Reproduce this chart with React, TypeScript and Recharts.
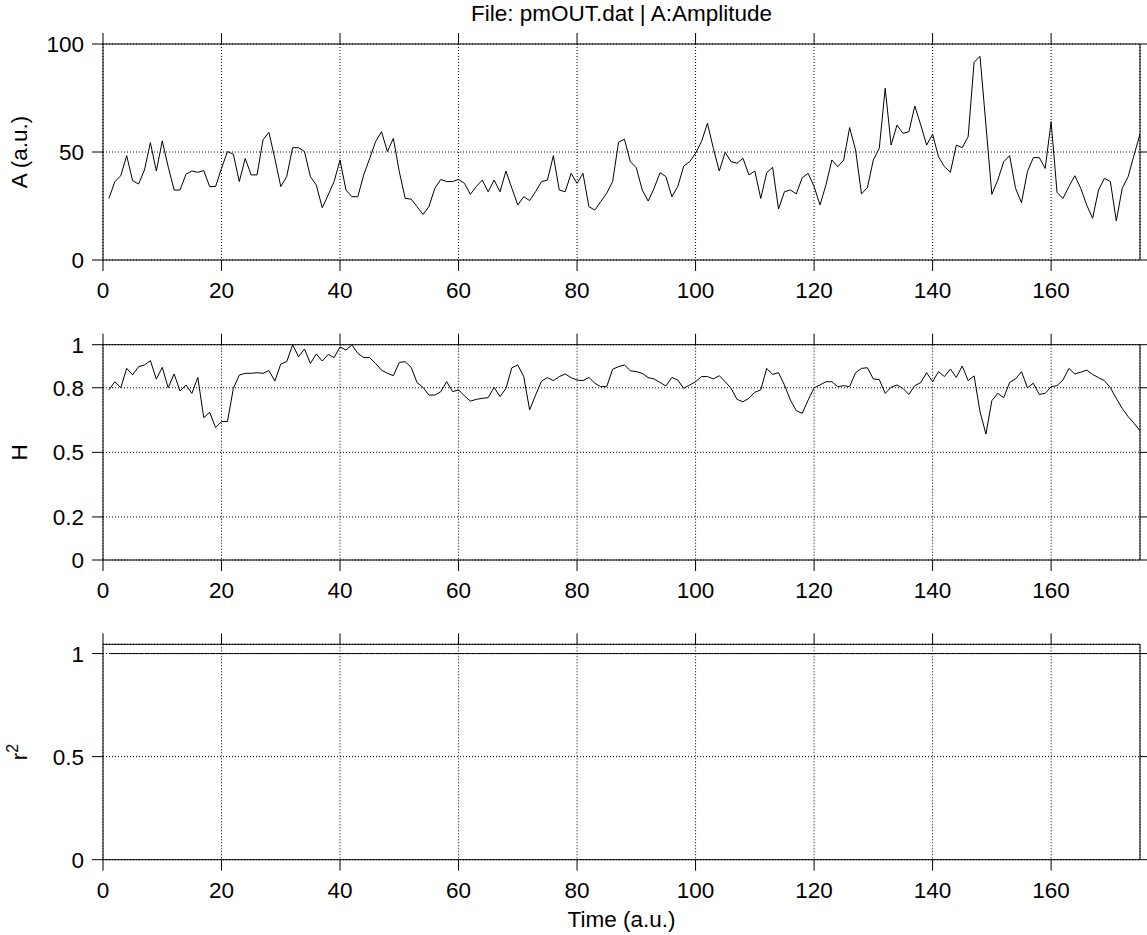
import React from "react";
import { LineChart, Line, XAxis, YAxis, CartesianGrid } from "recharts";

// Amplitude A (a.u.), one value per time step 1..175
const amplitude = [
  28.5, 36.3, 39, 48.3, 36.7, 35.2, 41.7, 54.3, 41.2, 55.1,
  43.2, 32.4, 32.4, 39.7, 41.2, 40.6, 41.4, 34, 34, 42.4,
  50.2, 49, 36.3, 47, 39.4, 39.4, 55.6, 59.1, 47, 34,
  38.6, 52, 52, 50.2, 38.6, 34.7, 24.2, 30.1, 36.3, 46.3,
  32.4, 29.3, 29.3, 39.4, 47, 54.8, 59.4, 50.2, 56.3, 40.9,
  28.5, 28.2, 24.7, 21.1, 24.7, 33.2, 37.3, 36.3, 36.3, 37.3,
  35.5, 30.4, 34, 37, 31.6, 37, 31.6, 41.2, 33.2, 25.5,
  29.3, 27.5, 31.6, 36.3, 37, 48.3, 32.4, 31.6, 40.1, 35.5,
  40.1, 24.7, 23.1, 27, 30.9, 36.3, 54.5, 55.9, 45.5, 42.7,
  32.4, 27.3, 33.2, 40.4, 38.6, 29.3, 34, 43.5, 45.5, 49.4,
  54.8, 63.3, 51.7, 41.2, 49.8, 45.5, 44.8, 47.1, 39.4, 41.2,
  28.5, 40.4, 42.9, 23.6, 31.6, 32.4, 30.6, 38.1, 40.1, 34,
  25.5, 34.7, 46.3, 43.2, 46.3, 61.3, 50.9, 30.6, 33.5, 46.3,
  51.7, 79.5, 53.2, 62.5, 58.6, 59.4, 71.3, 62.5, 53.2, 58.2,
  47.8, 43.2, 40.6, 53.2, 52, 57.1, 91.5, 94.3, 62.5, 30.4,
  37, 45.5, 48.3, 33.2, 26.5, 40.9, 47.4, 47.4, 42.4, 64,
  31.3, 28.5, 34, 39, 33.2, 25.5, 19.3, 32.4, 37.8, 36.3,
  18.1, 33.2, 38.6, 48.6, 58.3,
];

// H, one value per time step
const hurst = [
  0.79, 0.828, 0.8, 0.89, 0.86, 0.898, 0.906, 0.926, 0.84, 0.895,
  0.8, 0.864, 0.785, 0.813, 0.774, 0.848, 0.661, 0.686, 0.615, 0.643,
  0.643, 0.797, 0.859, 0.867, 0.867, 0.87, 0.867, 0.88, 0.831, 0.91,
  0.921, 1.0, 0.944, 0.98, 0.913, 0.957, 0.924, 0.955, 0.94, 0.99,
  0.975, 0.999, 0.96, 0.94, 0.94, 0.913, 0.882, 0.867, 0.856, 0.918,
  0.921, 0.895, 0.824, 0.802, 0.766, 0.766, 0.782, 0.828, 0.782, 0.79,
  0.762, 0.738, 0.746, 0.751, 0.754, 0.802, 0.759, 0.797, 0.893, 0.906,
  0.852, 0.697, 0.766, 0.831, 0.847, 0.833, 0.852, 0.864, 0.847, 0.836,
  0.833, 0.848, 0.821, 0.805, 0.805, 0.886, 0.898, 0.906, 0.879, 0.875,
  0.867, 0.847, 0.841, 0.825, 0.808, 0.848, 0.836, 0.797, 0.813, 0.828,
  0.852, 0.852, 0.841, 0.856, 0.828, 0.797, 0.746, 0.735, 0.751, 0.779,
  0.79, 0.89, 0.862, 0.87, 0.813, 0.743, 0.694, 0.681, 0.743, 0.8,
  0.813, 0.828, 0.828, 0.805, 0.81, 0.805, 0.87, 0.89, 0.893, 0.841,
  0.838, 0.774, 0.802, 0.813, 0.797, 0.769, 0.81, 0.824, 0.87, 0.828,
  0.875, 0.852, 0.887, 0.848, 0.901, 0.833, 0.855, 0.689, 0.585, 0.74,
  0.774, 0.754, 0.825, 0.841, 0.875, 0.8, 0.821, 0.769, 0.774, 0.805,
  0.81, 0.836, 0.89, 0.864, 0.872, 0.882, 0.862, 0.847, 0.833, 0.8,
  0.751, 0.704, 0.666, 0.635, 0.6,
];

// r^2 of the fit, one value per time step
const rSquared = [
  1, 1, 1, 1, 1, 1, 1, 1, 1, 1, 1, 1, 1, 1, 1, 1, 1, 1, 1, 1, 1, 1, 1, 1, 1,
  1, 1, 1, 1, 1, 1, 1, 1, 1, 1, 1, 1, 1, 1, 1, 1, 1, 1, 1, 1, 1, 1, 1, 1, 1,
  1, 1, 1, 1, 1, 1, 1, 1, 1, 1, 1, 1, 1, 1, 1, 1, 1, 1, 1, 1, 1, 1, 1, 1, 1,
  1, 1, 1, 1, 1, 1, 1, 1, 1, 1, 1, 1, 1, 1, 1, 1, 1, 1, 1, 1, 1, 1, 1, 1, 1,
  1, 1, 1, 1, 1, 1, 1, 1, 1, 1, 1, 1, 1, 1, 1, 1, 1, 1, 1, 1, 1, 1, 1, 1, 1,
  1, 1, 1, 1, 1, 1, 1, 1, 1, 1, 1, 1, 1, 1, 1, 1, 1, 1, 1, 1, 1, 1, 1, 1, 1,
  1, 1, 1, 1, 1, 1, 1, 1, 1, 1, 1, 1, 1, 1, 1, 1, 1, 1, 1, 1, 1, 1, 1, 1, 1,
];

const timeTicks = [0, 20, 40, 60, 80, 100, 120, 140, 160];
const timeDomain = [0, 175];
const ampTicks = [0, 50, 100];
const hTicks = [0, 0.2, 0.5, 0.8, 1];
const r2Ticks = [0, 0.5, 1];

const FONT = '"Liberation Sans", Arial, Helvetica, sans-serif';
const FS = 22.5;
const WIDTH = 1147;
const LEFT = 103; // y-axis band width => plot starts at x=103
const RIGHT = 6; // plus 1px for the right-hand box axis
const TICK = 11;

const toRows = (values: number[]) => values.map((v, i) => ({ t: i + 1, v }));

// mirror axes keep their tick marks but show no numbers
const noLabel = () => <g />;

const yLabel = (text: string, sup?: string) => (props: any) => {
  const vb = props?.viewBox ?? {};
  const cx = 27;
  const cy = (vb.y ?? 0) + (vb.height ?? 0) / 2;
  return (
    <text
      x={cx}
      y={cy}
      transform={`rotate(-90 ${cx} ${cy})`}
      textAnchor="middle"
      fill="#000"
      fontSize={FS}
      fontFamily={FONT}
    >
      {text}
      {sup ? (
        <tspan dy={-9} fontSize={16}>
          {sup}
        </tspan>
      ) : null}
    </text>
  );
};

type PanelProps = {
  top: number;
  height: number;
  plotTop: number;
  xAxisHeight: number;
  values: number[];
  yDomain: number[];
  yTicks: number[];
  label: (props: any) => React.ReactElement;
  title?: string;
  xTitle?: string;
};

function Panel({
  top,
  height,
  plotTop,
  xAxisHeight,
  values,
  yDomain,
  yTicks,
  label,
  title,
  xTitle,
}: PanelProps) {
  const tickStyle = { fill: "#000", fontSize: FS, fontFamily: FONT };
  const line = { stroke: "#000", strokeWidth: 1 };
  return (
    <div style={{ position: "absolute", left: 0, top }}>
      <LineChart
        width={WIDTH}
        height={height}
        data={toRows(values)}
        // top x-axis is 1px tall, so the plot starts at plotTop
        margin={{ top: plotTop - 1, right: RIGHT, left: 0, bottom: 0 }}
      >
        <CartesianGrid
          xAxisId="b"
          yAxisId="l"
          stroke="#000"
          strokeDasharray="1 2"
        />
        <XAxis
          xAxisId="b"
          type="number"
          dataKey="t"
          domain={timeDomain}
          ticks={timeTicks}
          interval={0}
          height={xAxisHeight}
          tickSize={TICK}
          tickMargin={11}
          tick={tickStyle}
          axisLine={line}
          tickLine={line}
          allowDataOverflow
          label={
            xTitle
              ? {
                  value: xTitle,
                  position: "insideBottom",
                  offset: 8,
                  fill: "#000",
                  fontSize: FS,
                  fontFamily: FONT,
                }
              : undefined
          }
        />
        <XAxis
          xAxisId="t"
          orientation="top"
          type="number"
          dataKey="t"
          domain={timeDomain}
          ticks={timeTicks}
          interval={0}
          height={1}
          tickSize={TICK}
          tick={noLabel}
          axisLine={line}
          tickLine={line}
          allowDataOverflow
          label={
            title
              ? {
                  value: title,
                  position: "top",
                  offset: 22,
                  fill: "#000",
                  fontSize: FS,
                  fontFamily: FONT,
                }
              : undefined
          }
        />
        <YAxis
          yAxisId="l"
          type="number"
          domain={yDomain}
          ticks={yTicks}
          interval={0}
          width={LEFT}
          tickSize={TICK}
          tickMargin={8}
          tick={tickStyle}
          axisLine={line}
          tickLine={line}
          allowDataOverflow
          label={label}
        />
        <YAxis
          yAxisId="r"
          orientation="right"
          type="number"
          domain={yDomain}
          ticks={yTicks}
          interval={0}
          width={1}
          tickSize={TICK}
          tick={noLabel}
          axisLine={line}
          tickLine={line}
          allowDataOverflow
        />
        <Line
          xAxisId="b"
          yAxisId="l"
          type="linear"
          dataKey="v"
          stroke="#000"
          strokeWidth={1}
          dot={false}
          activeDot={false}
          isAnimationActive={false}
        />
      </LineChart>
    </div>
  );
}

export default function App() {
  return (
    <div
      style={{
        position: "absolute",
        left: 0,
        top: 0,
        width: WIDTH,
        height: 935,
        background: "#fff",
        fontFamily: FONT,
      }}
    >
      <Panel
        top={0}
        height={310}
        plotTop={44}
        xAxisHeight={50}
        values={amplitude}
        yDomain={[0, 100]}
        yTicks={ampTicks}
        label={yLabel("A (a.u.)")}
        title="File: pmOUT.dat | A:Amplitude"
      />
      <Panel
        top={300}
        height={310}
        plotTop={44.7}
        xAxisHeight={50}
        values={hurst}
        yDomain={[0, 1]}
        yTicks={hTicks}
        label={yLabel("H")}
      />
      <Panel
        top={600}
        height={335}
        plotTop={44.3}
        xAxisHeight={75.3}
        values={rSquared}
        yDomain={[0, 1.045]}
        yTicks={r2Ticks}
        label={yLabel("r", "2")}
        xTitle="Time (a.u.)"
      />
    </div>
  );
}
